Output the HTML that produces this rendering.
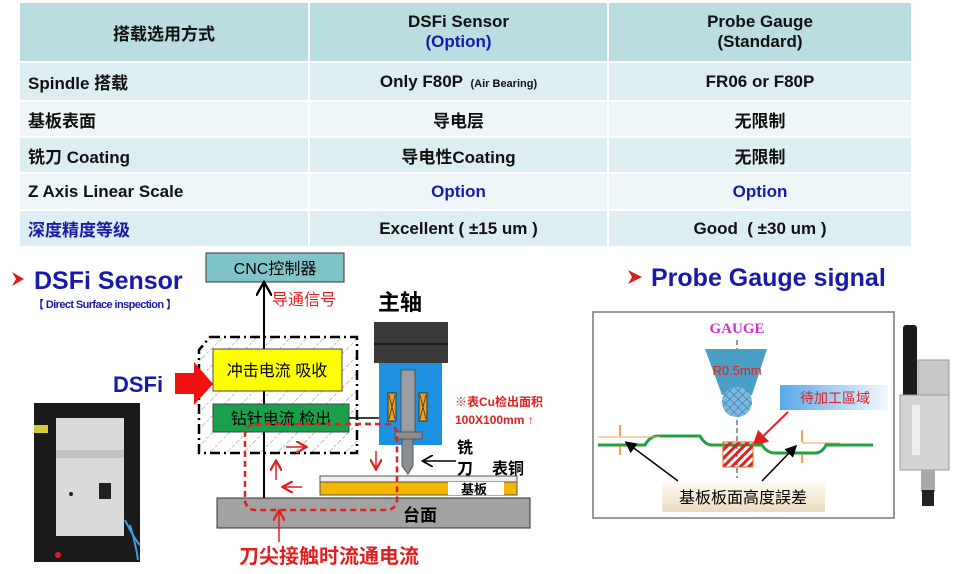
<!DOCTYPE html>
<html><head><meta charset="utf-8"><style>
body{margin:0;width:960px;height:574px;background:#fff;overflow:hidden;position:relative;font-family:"Liberation Sans","Noto Sans CJK SC",sans-serif}
table{position:absolute;left:20px;top:3px;border-collapse:separate;border-spacing:0;width:893px}
td{font-weight:bold;font-size:17px;color:#111;text-align:center;border-right:2px solid #fff;border-bottom:2px solid #fff;padding:0}
td:first-child{text-align:left;padding-left:8px}
.b{color:#1a1aa8}
</style></head><body>
<table>
<tr style="background:#b9dde1;height:60px"><td style="width:288px;text-align:center;padding:0">搭载选用方式</td><td style="width:297px">DSFi Sensor<br><span class="b">(Option)</span></td><td>Probe Gauge<br>(Standard)</td></tr>
<tr style="background:#ddeef2;height:39px"><td>Spindle 搭载</td><td>Only F80P <span style="font-size:11px">&nbsp;(Air Bearing)</span></td><td>FR06 or F80P</td></tr>
<tr style="background:#eef6f8;height:36px"><td>基板表面</td><td>导电层</td><td>无限制</td></tr>
<tr style="background:#ddeef2;height:36px"><td>铣刀 Coating</td><td>导电性Coating</td><td>无限制</td></tr>
<tr style="background:#eef6f8;height:37px"><td>Z Axis Linear Scale</td><td class="b">Option</td><td class="b">Option</td></tr>
<tr style="background:#ddeef2;height:37px"><td class="b">深度精度等级</td><td>Excellent ( ±15 um )</td><td>Good &nbsp;( ±30 um )</td></tr>
</table>
<svg width="960" height="574" style="position:absolute;left:0;top:0" font-family="Liberation Sans, Noto Sans CJK SC, sans-serif">
<defs>
<pattern id="h" width="12" height="12" patternUnits="userSpaceOnUse" patternTransform="rotate(45)"><line x1="0" y1="0" x2="0" y2="12" stroke="#888" stroke-width="1" stroke-dasharray="3,2"/></pattern>
<pattern id="rh" width="6" height="6" patternUnits="userSpaceOnUse" patternTransform="rotate(45)"><rect width="3" height="6" fill="#e02020"/></pattern>
<pattern id="mesh" width="6" height="6" patternUnits="userSpaceOnUse" patternTransform="rotate(45)"><path d="M0 0H6M0 0V6" stroke="#2a6fb0" stroke-width="1"/></pattern>
<linearGradient id="bg1" x1="0" x2="1"><stop offset="0" stop-color="#58a8e8"/><stop offset="1" stop-color="#f4f8ff"/></linearGradient>
<linearGradient id="bg2" x1="0" y1="0" x2="0" y2="1"><stop offset="0" stop-color="#fffaf0"/><stop offset="1" stop-color="#eadcc0"/></linearGradient>
<marker id="ar" markerWidth="8" markerHeight="8" refX="6" refY="4" orient="auto"><path d="M0 0L7 4L0 8" fill="none" stroke="#000" stroke-width="1.2"/></marker>
<marker id="arr" markerWidth="8" markerHeight="8" refX="6" refY="4" orient="auto"><path d="M0 0L7 4L0 8" fill="none" stroke="#e02020" stroke-width="1.5"/></marker>
<marker id="ab" markerWidth="8" markerHeight="8" refX="6" refY="4" orient="auto"><path d="M0 0L8 4L0 8z" fill="#000"/></marker>
<marker id="ared" markerWidth="8" markerHeight="8" refX="6" refY="4" orient="auto"><path d="M0 0L8 4L0 8z" fill="#e02020"/></marker>
</defs>
<path d="M12 272L24 279L12 286L16 279z" fill="#d02020"/>
<text x="34" y="289" font-size="25" font-weight="bold" fill="#1a1aa8">DSFi&#160;Sensor</text>
<text x="33" y="308" font-size="11" font-weight="bold" fill="#1a1aa8" letter-spacing="-0.6">【 Direct Surface inspection 】</text>
<rect x="34" y="403" width="106" height="159" fill="#1a1a1a"/>
<rect x="34" y="425" width="14" height="8" fill="#d8c840"/>
<rect x="56" y="418" width="68" height="118" fill="#d8dadc"/>
<rect x="56" y="450" width="68" height="8" fill="#c0c2c4"/>
<rect x="99" y="483" width="12" height="16" fill="#222"/>
<circle cx="71" cy="494" r="2" fill="#222"/>
<path d="M125 520Q135 540 140 545M130 525Q136 545 138 560" stroke="#4a9ad8" stroke-width="2" fill="none"/>
<circle cx="58" cy="555" r="3" fill="#e02020"/>
<rect x="206" y="253" width="138" height="29" fill="#7fc4c8" stroke="#333"/>
<text x="275" y="274" font-size="16" text-anchor="middle">CNC控制器</text>
<line x1="264" y1="498" x2="264" y2="284" stroke="#000" stroke-width="2" marker-end="url(#ar)"/>
<text x="272" y="305" font-size="16" fill="#e02020">导通信号</text>
<path d="M210 337H357V453H199V350z" fill="url(#h)" stroke="#000" stroke-width="2.5" stroke-dasharray="10,4,2,4"/>
<line x1="264" y1="337" x2="264" y2="453" stroke="#000" stroke-width="2"/>
<rect x="213" y="349" width="129" height="42" fill="#ffff00" stroke="#444"/>
<text x="277" y="376" font-size="16" text-anchor="middle">冲击电流 吸收</text>
<rect x="213" y="404" width="136" height="28" fill="#1aa04a" stroke="#444"/>
<text x="281" y="424" font-size="16" text-anchor="middle">钻针电流 检出</text>
<line x1="349" y1="418" x2="379" y2="418" stroke="#000" stroke-width="1.5"/>
<path d="M175 373H194V362L213 384L194 405V394H175z" fill="#f01010"/>
<text x="113" y="392" font-size="22" font-weight="bold" fill="#1a1aa8">DSFi</text>
<text x="378" y="310" font-size="22" font-weight="bold">主轴</text>
<rect x="374" y="322" width="74" height="41" fill="#3a3a3a"/>
<line x1="374" y1="344" x2="448" y2="344" stroke="#111" stroke-width="1.5"/>
<rect x="379" y="363" width="63" height="82" fill="#1e90e0"/>
<rect x="388" y="393" width="8" height="28" fill="#e8a020" stroke="#333"/>
<rect x="419" y="393" width="8" height="28" fill="#e8a020" stroke="#333"/>
<path d="M389 395L395 419M395 395L389 419M420 395L426 419M426 395L420 419" stroke="#333" stroke-width="0.8"/>
<rect x="401" y="370" width="14" height="66" fill="#9a9ea2" stroke="#555"/>
<rect x="395" y="432" width="27" height="7" fill="#8a8e92" stroke="#555"/>
<path d="M402 439H413V466L408 474L402 466z" fill="#8a8e92" stroke="#555"/>
<text x="457" y="453" font-size="16" font-weight="bold">铣</text>
<text x="457" y="474" font-size="16" font-weight="bold">刀</text>
<text x="492" y="474" font-size="16" font-weight="bold">表铜</text>
<line x1="456" y1="461" x2="424" y2="461" stroke="#000" stroke-width="1.5" marker-end="url(#ar)"/>
<text x="455" y="406" font-size="12" font-weight="bold" fill="#e02020">※表Cu检出面积</text>
<text x="455" y="424" font-size="12" font-weight="bold" fill="#e02020">100X100mm ↑</text>
<rect x="320" y="476" width="197" height="6" fill="#f0f0f0" stroke="#555"/>
<rect x="320" y="482" width="197" height="13" fill="#f5b800" stroke="#555"/>
<rect x="448" y="482" width="56" height="13" fill="#fff"/>
<text x="474" y="494" font-size="13" font-weight="bold" text-anchor="middle">基板</text>
<rect x="217" y="498" width="313" height="30" fill="#a2a2a2" stroke="#333"/>
<text x="420" y="521" font-size="17" font-weight="bold" text-anchor="middle">台面</text>
<rect x="245" y="424" width="152" height="86" rx="10" fill="none" stroke="#e02020" stroke-width="2.5" stroke-dasharray="6,4"/>
<line x1="286" y1="447" x2="305" y2="447" stroke="#e02020" stroke-width="1.5" marker-end="url(#arr)"/>
<line x1="376" y1="451" x2="376" y2="468" stroke="#e02020" stroke-width="1.5" marker-end="url(#arr)"/>
<line x1="276" y1="480" x2="276" y2="462" stroke="#e02020" stroke-width="1.5" marker-end="url(#arr)"/>
<line x1="302" y1="487" x2="284" y2="487" stroke="#e02020" stroke-width="1.5" marker-end="url(#arr)"/>
<line x1="279" y1="542" x2="279" y2="512" stroke="#e02020" stroke-width="1.5" marker-end="url(#arr)"/>
<text x="329" y="563" font-size="20" font-weight="bold" fill="#e02020" text-anchor="middle">刀尖接触时流通电流</text>
<path d="M628 270L642 277L628 284L632 277z" fill="#d02020"/>
<text x="651" y="286" font-size="25" font-weight="bold" fill="#1a1aa8">Probe Gauge signal</text>
<rect x="593" y="312" width="301" height="206" fill="#fff" stroke="#777" stroke-width="1.5"/>
<text x="737" y="333" font-size="15" font-weight="bold" fill="#d030d0" text-anchor="middle" font-family="Liberation Serif, serif">GAUGE</text>
<line x1="737" y1="340" x2="737" y2="478" stroke="#333" stroke-dasharray="5,3"/>
<path d="M705 349H767L752 395H722z" fill="#4aa0c4"/>
<circle cx="737" cy="402" r="15" fill="#7ab8dc"/>
<circle cx="737" cy="402" r="15" fill="url(#mesh)"/>
<text x="737" y="375" font-size="13" fill="#e02020" text-anchor="middle">R0.5mm</text>
<rect x="780" y="385" width="108" height="25" fill="url(#bg1)"/>
<text x="800" y="403" font-size="14" fill="#e02020">待加工區域</text>
<line x1="788" y1="412" x2="755" y2="444" stroke="#e02020" stroke-width="2" marker-end="url(#ared)"/>
<path d="M598 445H645Q650 436 658 436H700Q705 445 712 445H762Q767 453 775 453H815Q822 453 826 445H873" fill="none" stroke="#20a040" stroke-width="3"/>
<rect x="723" y="442" width="30" height="25" fill="url(#rh)" stroke="#e06020"/>
<path d="M598 437H660M802 443H840" stroke="#f0a060"/>
<path d="M620 425V436M620 455V446M802 430V442M802 463V454" stroke="#f08020" stroke-width="1.5"/>
<rect x="662" y="483" width="163" height="29" fill="url(#bg2)"/>
<text x="743" y="503" font-size="16" text-anchor="middle">基板板面高度誤差</text>
<line x1="678" y1="481" x2="627" y2="443" stroke="#000" stroke-width="1.5" marker-end="url(#ab)"/>
<line x1="762" y1="481" x2="795" y2="447" stroke="#000" stroke-width="1.5" marker-end="url(#ab)"/>
<rect x="903" y="325" width="14" height="72" rx="3" fill="#1a1a1a"/>
<rect x="918" y="360" width="31" height="40" fill="#c8c8c8" stroke="#999"/>
<rect x="900" y="395" width="49" height="75" fill="#d4d4d4" stroke="#999"/>
<rect x="912" y="405" width="8" height="50" fill="#eee"/>
<rect x="921" y="470" width="14" height="22" fill="#aaa"/>
<rect x="922" y="490" width="12" height="16" fill="#222"/>
</svg>
</body></html>
